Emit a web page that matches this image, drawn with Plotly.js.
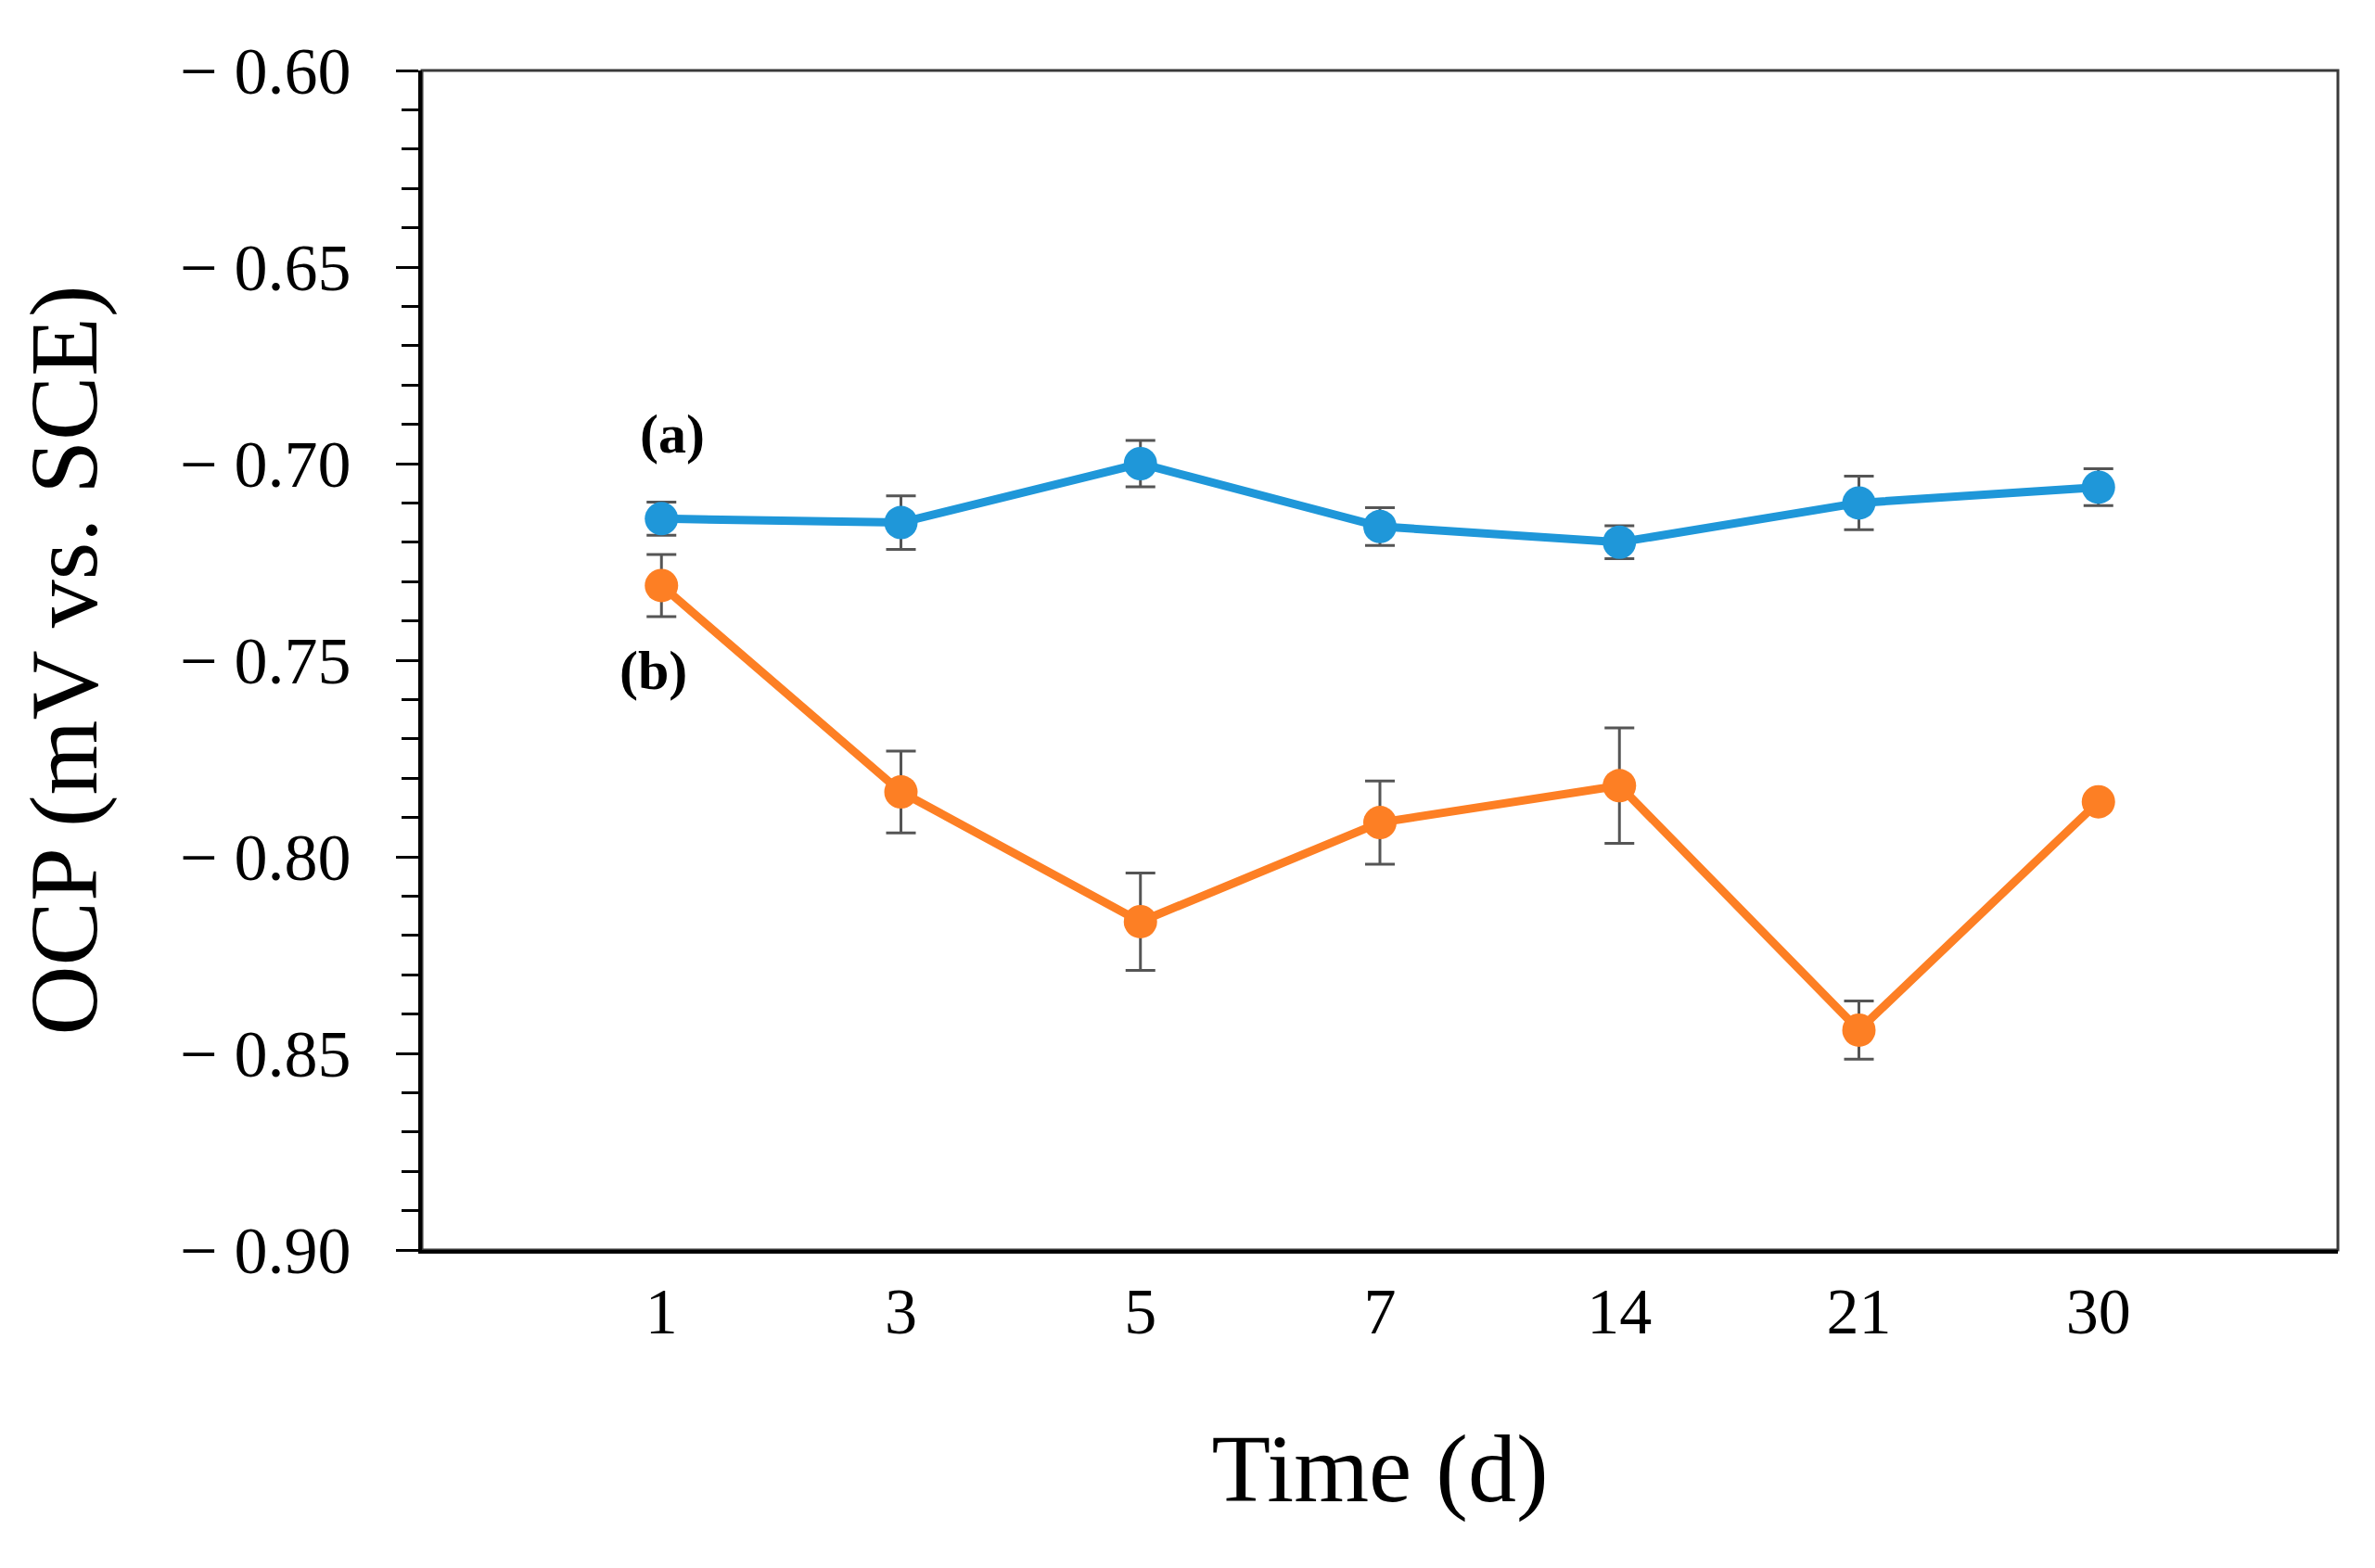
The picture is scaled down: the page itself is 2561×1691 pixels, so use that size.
<!DOCTYPE html>
<html>
<head>
<meta charset="utf-8">
<script src="https://cdn.plot.ly/plotly-3.0.1.min.js"></script>
<style>
  html, body { margin: 0; padding: 0; background: #fff; }
  #plot { width: 2561px; height: 1691px; }
</style>
</head>
<body>
<div id="plot"></div>
<script>
// days, shown as evenly spaced categories
var days = ['1', '3', '5', '7', '14', '21', '30']

// (a) upper curve
var ocpA = [-0.714, -0.715, -0.700, -0.716, -0.720, -0.710, -0.706]
var errA = [0.0042, 0.0068, 0.0059, 0.0048, 0.0042, 0.0068, 0.0047]

// (b) lower curve
var ocpB = [-0.731, -0.7835, -0.8165, -0.7913, -0.7819, -0.8441, -0.786]
var errB = [0.0079, 0.0104, 0.0124, 0.0106, 0.0147, 0.0074, 0]

var yTickVals = [-0.60, -0.65, -0.70, -0.75, -0.80, -0.85, -0.90]
var yTickText = yTickVals.map(function (v) {
    return '\u2212 ' + Math.abs(v).toFixed(2)
})

var serif = 'Liberation Serif, Times New Roman, serif'
var idx = days.map(function (d, i) { return i })

function series(y, err, color) {
    return {
        x: idx,
        y: y,
        type: 'scatter',
        mode: 'lines+markers',
        line: {color: color, width: 9},
        marker: {color: color, size: 36},
        error_y: {
            type: 'data', array: err, visible: true,
            color: '#555555', thickness: 3, width: 16
        },
        showlegend: false,
        hoverinfo: 'skip'
    }
}

var data = [
    series(ocpA, errA, '#1f97d9'),
    series(ocpB, errB, '#fd7f24')
]

var layout = {
    width: 2561,
    height: 1691,
    margin: {l: 455, r: 40, t: 76, b: 343, pad: 0},
    paper_bgcolor: '#ffffff',
    plot_bgcolor: '#ffffff',
    font: {family: serif, color: '#000000'},
    xaxis: {
        range: [-1, 7],
        tickmode: 'array',
        tickvals: idx,
        ticktext: days,
        ticks: '',
        ticklabelstandoff: 2,
        tickfont: {size: 70, family: serif},
        showgrid: false,
        zeroline: false,
        showline: true,
        linecolor: '#000000',
        linewidth: 4,
        title: {text: 'Time (d)', font: {size: 104, family: serif}, standoff: 95}
    },
    yaxis: {
        range: [-0.90, -0.60],
        tickmode: 'array',
        tickvals: yTickVals,
        ticktext: yTickText,
        ticks: 'outside',
        ticklen: 24,
        tickwidth: 3,
        tickcolor: '#000000',
        ticklabelstandoff: 34,
        minor: {dtick: 0.01, ticks: 'outside', ticklen: 18, tickwidth: 3, tickcolor: '#000000', showgrid: false},
        tickfont: {size: 72, family: serif},
        showgrid: false,
        zeroline: false,
        showline: true,
        linecolor: '#000000',
        linewidth: 4,
        title: {text: 'OCP (mV vs. SCE)', font: {size: 104, family: serif}, standoff: 56}
    },
    shapes: [{
        type: 'rect', xref: 'paper', yref: 'paper',
        x0: 0, y0: 0, x1: 1, y1: 1,
        line: {color: '#3a3a3a', width: 3},
        layer: 'below'
    }],
    annotations: [
        {text: '<b>(a)</b>', x: 0, y: -0.6925, xref: 'x', yref: 'y', xshift: 12,
         showarrow: false, font: {size: 60, family: serif}},
        {text: '<b>(b)</b>', x: 0, y: -0.7525, xref: 'x', yref: 'y', xshift: -9,
         showarrow: false, font: {size: 60, family: serif}}
    ]
}

Plotly.newPlot('plot', data, layout, {staticPlot: true, displayModeBar: false})
</script>
</body>
</html>
